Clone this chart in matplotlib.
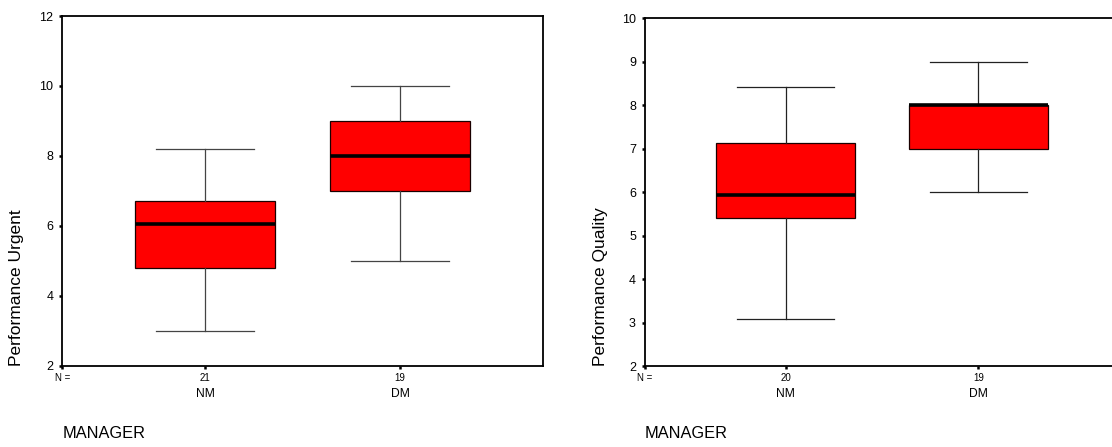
import matplotlib
matplotlib.use("Agg")
import matplotlib.pyplot as plt
import matplotlib.transforms as mtransforms

plt.rcParams["font.family"] = ["Liberation Sans", "DejaVu Sans"]

# Groups and counts
groups = ["NM", "DM"]
n_urgent = [21, 19]
n_quality = [20, 19]

# Five-number summaries: lower whisker, Q1, median, Q3, upper whisker
urgent_whislo = [3.0, 5.0]
urgent_q1 = [4.8, 7.0]
urgent_med = [6.05, 8.0]
urgent_q3 = [6.7, 9.0]
urgent_whishi = [8.2, 10.0]

quality_whislo = [3.08, 6.0]
quality_q1 = [5.4, 7.0]
quality_med = [5.93, 8.0]
quality_q3 = [7.13, 8.0]
quality_whishi = [8.42, 9.0]

urgent_ticks = [2, 4, 6, 8, 10, 12]
quality_ticks = [2, 3, 4, 5, 6, 7, 8, 9, 10]


def make_stats(lo, q1, med, q3, hi, labels):
    return [dict(whislo=a, q1=b, med=c, q3=d, whishi=e, label=l, fliers=[])
            for a, b, c, d, e, l in zip(lo, q1, med, q3, hi, labels)]


def draw_panel(ax, stats, counts, yticks, ylabel, whisker_color, xlim, label_x):
    ax.bxp(stats, positions=[1, 2], widths=0.72, patch_artist=True,
           showfliers=False,
           boxprops=dict(facecolor="#ff0000", edgecolor="#1a0000", linewidth=0.9),
           medianprops=dict(color="black", linewidth=2.6, solid_capstyle="butt"),
           whiskerprops=dict(color=whisker_color, linewidth=0.9),
           capprops=dict(color=whisker_color, linewidth=0.9),
           capwidths=0.5)
    ax.set_xlim(*xlim)
    ax.set_ylim(yticks[0], yticks[-1])
    ax.set_yticks(yticks)
    ax.set_yticklabels([str(t) for t in yticks], fontsize=9)
    ax.set_xticks([xlim[0], 1, 2])
    ax.set_xticklabels(["N ="] + [str(c) for c in counts], fontsize=7)
    ax.tick_params(axis="both", direction="out", length=2.2, width=1.8,
                   color="black")
    ax.tick_params(axis="y", pad=4.3)
    ax.tick_params(axis="x", pad=3.0)
    for s in ax.spines.values():
        s.set_linewidth(1.3)
        s.set_color("black")

    trans = mtransforms.blended_transform_factory(ax.transData, ax.transAxes)
    for pos, g in zip([1, 2], groups):
        ax.text(pos, -0.081, g, transform=trans, ha="center", va="center",
                fontsize=8.7)
    ax.text(0.0, -0.195, "MANAGER", transform=ax.transAxes, ha="left",
            va="center", fontsize=11.8)
    fig = ax.figure
    ftrans = mtransforms.blended_transform_factory(fig.transFigure, ax.transAxes)
    ax.text(label_x, 0.0, ylabel, transform=ftrans, rotation=90,
            ha="center", va="bottom", fontsize=12.5)


fig = plt.figure(figsize=(11.12, 4.47), dpi=100)
ax1 = fig.add_axes([0.0560, 0.1819, 0.4320, 0.7823])
ax2 = fig.add_axes([0.5800, 0.1812, 0.4263, 0.7785])

draw_panel(ax1,
           make_stats(urgent_whislo, urgent_q1, urgent_med, urgent_q3,
                      urgent_whishi, groups),
           n_urgent, urgent_ticks, "Performance Urgent", "#444444",
           (0.268, 2.732), 17 / 1112)
draw_panel(ax2,
           make_stats(quality_whislo, quality_q1, quality_med, quality_q3,
                      quality_whishi, groups),
           n_quality, quality_ticks, "Performance Quality", "#222222",
           (0.270, 2.730), 601 / 1112)

fig.savefig("out.png", dpi=100, facecolor="white")
